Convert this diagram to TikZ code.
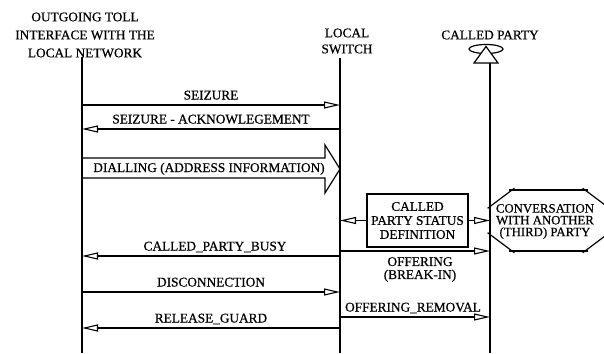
\documentclass[tikz,border=0pt]{standalone}
\usepackage{fontspec}
\setmainfont{Liberation Serif}[FakeBold=0.6]
\usetikzlibrary{arrows.meta}
\begin{document}
\begin{tikzpicture}[x=1pt,y=-1pt,
  every node/.style={font=\fontsize{13.3}{15}\selectfont, inner sep=0pt},
  life/.style={line width=1.2pt},
  msg/.style={line width=1.1pt, -{Triangle[open,length=16pt,width=7pt]}},
  lbl/.style={midway, anchor=base, yshift=5.5pt},
  hexedge/.style={line width=1.2pt, shorten <=-3pt, shorten >=-3pt}]
\clip (0,0) rectangle (604,353);
\fill[white] (0,0) rectangle (604,353);

% headers
\node[align=center, font=\fontsize{13.3}{18}\selectfont] (hL) at (85,35) {OUTGOING TOLL\\INTERFACE WITH THE\\LOCAL NETWORK};
\node[align=center, font=\fontsize{13.3}{16}\selectfont] (hS) at (347,41) {LOCAL\\SWITCH};
\node (hC) at (490,35) {CALLED PARTY};

% called party symbol
\draw[line width=1.2pt] (486,49) ellipse (17pt and 4.5pt);
\draw[line width=1.2pt, fill=white] (486,46.5) -- (474,63) -- (498,63) -- cycle;

% lifelines
\coordinate (Lt) at (82,57);  \coordinate (Lb) at (82,353);
\coordinate (St) at (340,58); \coordinate (Sb) at (340,353);
\coordinate (Ct) at (490,63); \coordinate (Cb) at (490,353);
\draw[life] (Lt) -- (Lb);
\draw[life] (St) -- (Sb);
\draw[life] (Ct) -- (Cb);

% messages
\coordinate (L1) at (82,105);  \coordinate (S1) at (340,105);
\draw[msg] (L1) -- node[lbl]{SEIZURE} (S1);
\coordinate (L2) at (82,129);  \coordinate (S2) at (340,129);
\draw[msg] (S2) -- node[lbl]{SEIZURE - ACKNOWLEGEMENT} (L2);

% dialling big arrow
\draw[line width=1.2pt] (82,158) -- (325,158) -- (325,145) -- (340,169) -- (325,193) -- (325,178) -- (82,178);
\node[anchor=base] (dial) at (209,172) {DIALLING (ADDRESS INFORMATION)};

% status definition box
\node[draw, line width=1.2pt, minimum width=101pt, minimum height=53pt, align=center,
      font=\fontsize{13.3}{14}\selectfont] (box) at (417.5,220.5) {CALLED\\PARTY STATUS\\DEFINITION};
\coordinate (S4) at (340,220.5); \coordinate (C4) at (490,220.5);
\draw[msg] (box.west) -- (S4);
\draw[msg] (box.east) -- (C4);

% hexagon
\coordinate (h1) at (512,190);   \coordinate (h2) at (585,190);
\coordinate (h3) at (607,206.5); \coordinate (h4) at (607,234.5);
\coordinate (h5) at (585,251);   \coordinate (h6) at (512,251);
\coordinate (h7) at (490,234.5); \coordinate (h8) at (490,206.5);
\draw[hexedge] (h1) -- (h2);
\draw[hexedge] (h2) -- (h3);
\draw[hexedge] (h3) -- (h4);
\draw[hexedge] (h4) -- (h5);
\draw[hexedge] (h5) -- (h6);
\draw[hexedge] (h6) -- (h7);
\draw[hexedge] (h7) -- (h8);
\draw[hexedge] (h8) -- (h1);
\node[align=center, font=\fontsize{12.8}{11.8}\selectfont] (hex) at (545,221.5) {CONVERSATION\\WITH ANOTHER\\(THIRD) PARTY};

% later messages
\coordinate (S5) at (340,251); \coordinate (C5) at (490,251);
\draw[msg] (S5) -- (C5);
\node[align=center, font=\fontsize{13.3}{13}\selectfont] (off) at (420,269.5) {OFFERING\\(BREAK-IN)};
\coordinate (L6) at (82,256); \coordinate (S6) at (340,256);
\draw[msg] (S6) -- node[lbl, xshift=4pt]{CALLED\_PARTY\_BUSY} (L6);
\coordinate (L7) at (82,292); \coordinate (S7) at (340,292);
\draw[msg] (L7) -- node[lbl]{DISCONNECTION} (S7);
\coordinate (S8) at (340,317); \coordinate (C8) at (490,317);
\draw[msg] (S8) -- node[lbl, xshift=-2pt]{OFFERING\_REMOVAL} (C8);
\coordinate (L9) at (82,328); \coordinate (S9) at (340,328);
\draw[msg] (S9) -- node[lbl]{RELEASE\_GUARD} (L9);
\end{tikzpicture}
\end{document}
